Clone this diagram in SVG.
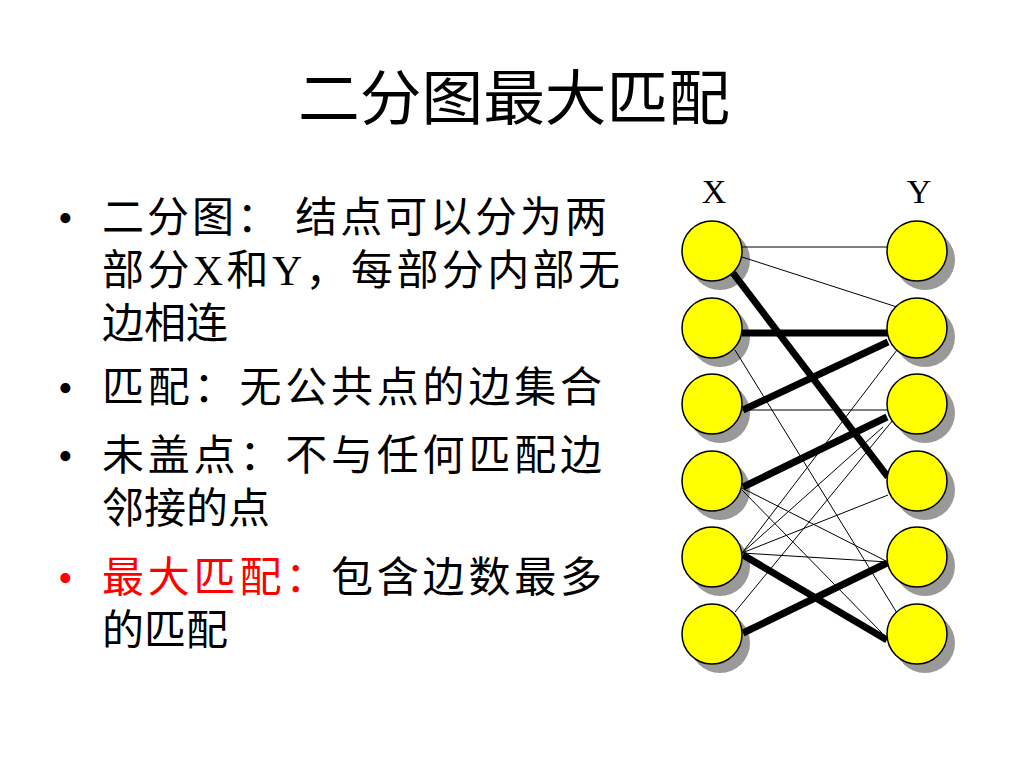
<svg xmlns="http://www.w3.org/2000/svg" width="1024" height="768" viewBox="0 0 1024 768">
<style>
text{font-family:"Liberation Serif","Noto Sans CJK SC",serif;fill:#000}
.t{font-size:42px}
.n{fill:#ff0;stroke:#000;stroke-width:1.5}
.s{fill:#999}
.thin{stroke:#000;stroke-width:1}
.thick{stroke:#000;stroke-width:7}
</style>
<rect width="1024" height="768" fill="#fff"/>
<text x="298" y="120" font-size="60" textLength="432" lengthAdjust="spacingAndGlyphs">二分图最大匹配</text>
<g class="t">
<text x="58" y="232">•</text><text x="102" y="232" textLength="505">二分图： 结点可以分为两</text>
<text x="102" y="285" textLength="518">部分X和Y，每部分内部无</text>
<text x="102" y="338">边相连</text>
<text x="58" y="402">•</text><text x="102" y="402" textLength="500">匹配：无公共点的边集合</text>
<text x="58" y="470">•</text><text x="102" y="470" textLength="500">未盖点：不与任何匹配边</text>
<text x="102" y="523">邻接的点</text>
<text x="58" y="592" style="fill:#f00">•</text><text x="102" y="592" textLength="500"><tspan style="fill:#f00">最大匹配：</tspan>包含边数最多</text>
<text x="102" y="645">的匹配</text>
</g>
<text x="714" y="203" font-size="34" text-anchor="middle">X</text>
<text x="919" y="203" font-size="34" text-anchor="middle">Y</text>
<g id="shadows">
<circle class="s" cx="720" cy="260" r="30"/><circle class="s" cx="720" cy="337" r="30"/><circle class="s" cx="720" cy="413" r="30"/><circle class="s" cx="720" cy="490" r="30"/><circle class="s" cx="720" cy="566" r="30"/><circle class="s" cx="720" cy="643" r="30"/>
<circle class="s" cx="925" cy="260" r="30"/><circle class="s" cx="925" cy="337" r="30"/><circle class="s" cx="925" cy="413" r="30"/><circle class="s" cx="925" cy="490" r="30"/><circle class="s" cx="925" cy="566" r="30"/><circle class="s" cx="925" cy="643" r="30"/>
</g>
<g id="connectors">
<line class="thin" x1="742" y1="247" x2="888" y2="247"/>
<line class="thin" x1="742" y1="257" x2="897" y2="307"/>
<line class="thin" x1="735" y1="350" x2="897" y2="613"/>
<line class="thin" x1="742" y1="410" x2="888" y2="410"/>
<line class="thin" x1="742" y1="488" x2="888" y2="562"/>
<line class="thin" x1="742" y1="490" x2="882" y2="633"/>
<line class="thin" x1="742" y1="553" x2="897" y2="350"/>
<line class="thin" x1="742" y1="553" x2="883" y2="427"/>
<line class="thin" x1="742" y1="553" x2="888" y2="495"/>
<line class="thin" x1="742" y1="553" x2="888" y2="562"/>
<line class="thin" x1="735" y1="612" x2="893" y2="420"/>
<line class="thick" x1="733" y1="273" x2="888" y2="477"/>
<line class="thick" x1="742" y1="333" x2="888" y2="333"/>
<line class="thick" x1="743" y1="410" x2="888" y2="342"/>
<line class="thick" x1="743" y1="487" x2="887" y2="417"/>
<line class="thick" x1="743" y1="555" x2="887" y2="640"/>
<line class="thick" x1="743" y1="633" x2="887" y2="563"/>
</g>
<g id="x1"><circle class="n" cx="712" cy="251" r="30"/></g>
<g id="x2"><circle class="n" cx="712" cy="328" r="30"/></g>
<g id="x3"><circle class="n" cx="712" cy="404" r="30"/></g>
<g id="x4"><circle class="n" cx="712" cy="481" r="30"/></g>
<g id="x5"><circle class="n" cx="712" cy="557" r="30"/></g>
<g id="x6"><circle class="n" cx="712" cy="634" r="30"/></g>
<g id="y1"><circle class="n" cx="917" cy="251" r="30"/></g>
<g id="y2"><circle class="n" cx="917" cy="328" r="30"/></g>
<g id="y3"><circle class="n" cx="917" cy="404" r="30"/></g>
<g id="y4"><circle class="n" cx="917" cy="481" r="30"/></g>
<g id="y5"><circle class="n" cx="917" cy="557" r="30"/></g>
<g id="y6"><circle class="n" cx="917" cy="634" r="30"/></g>
</svg>
